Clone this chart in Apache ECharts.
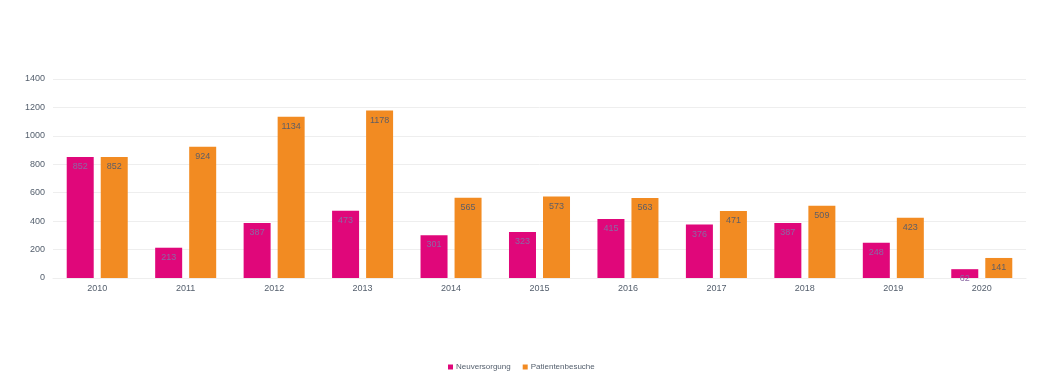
<!DOCTYPE html>
<html><head><meta charset="utf-8">
<script src="https://cdn.jsdelivr.net/npm/echarts@6/dist/echarts.min.js"></script>
<style>html,body{margin:0;padding:0;background:#fff}#c{width:1060px;height:390px}</style>
</head><body><div id="c"></div>
<script>
const categories = ['2010','2011','2012','2013','2014','2015','2016','2017','2018','2019','2020'];
const neuversorgung = [852, 213, 387, 473, 301, 323, 415, 376, 387, 248, 62];
const patientenbesuche = [852, 924, 1134, 1178, 565, 573, 563, 471, 509, 423, 141];
const yTicks = [0, 200, 400, 600, 800, 1000, 1200, 1400];

const chart = echarts.init(document.getElementById('c'));
chart.setOption({
  animation: false,
  grid: { left: 53, right: 34, top: 79, bottom: 112 },
  legend: {
    bottom: 14, left: 443,
    itemWidth: 5, itemHeight: 5, itemGap: 12, icon: 'rect',
    textStyle: { fontFamily: 'Liberation Sans, Arial', fontSize: 8, color: '#55606e', padding: [0,0,0,-2] },
    data: ['Neuversorgung', 'Patientenbesuche']
  },
  xAxis: {
    type: 'category', data: categories,
    axisLine: { show: true, lineStyle: { color: '#eeeeee' } },
    axisTick: { show: false },
    axisLabel: { fontFamily: 'Liberation Sans, Arial', fontSize: 9, color: '#55606e', margin: 6 }
  },
  yAxis: {
    type: 'value', min: yTicks[0], max: yTicks[yTicks.length-1], interval: 200,
    axisLine: { show: false }, axisTick: { show: false },
    splitLine: { lineStyle: { color: '#eeeeee' } },
    axisLabel: { fontFamily: 'Liberation Sans, Arial', fontSize: 9, color: '#55606e', margin: 8, formatter: v => String(v) }
  },
  series: [
    {
      name: 'Neuversorgung', type: 'bar', data: neuversorgung,
      barWidth: 27, barGap: '26%',
      itemStyle: { color: '#e0077a' },
      label: { show: true, position: 'insideTop', distance: 5, fontFamily: 'Liberation Sans, Arial', fontSize: 9, color: '#8a6aa4' }
    },
    {
      name: 'Patientenbesuche', type: 'bar', data: patientenbesuche,
      barWidth: 27,
      itemStyle: { color: '#f28b22' },
      label: { show: true, position: 'insideTop', distance: 5, fontFamily: 'Liberation Sans, Arial', fontSize: 9, color: '#5e5e66' }
    }
  ]
});
</script></body></html>
